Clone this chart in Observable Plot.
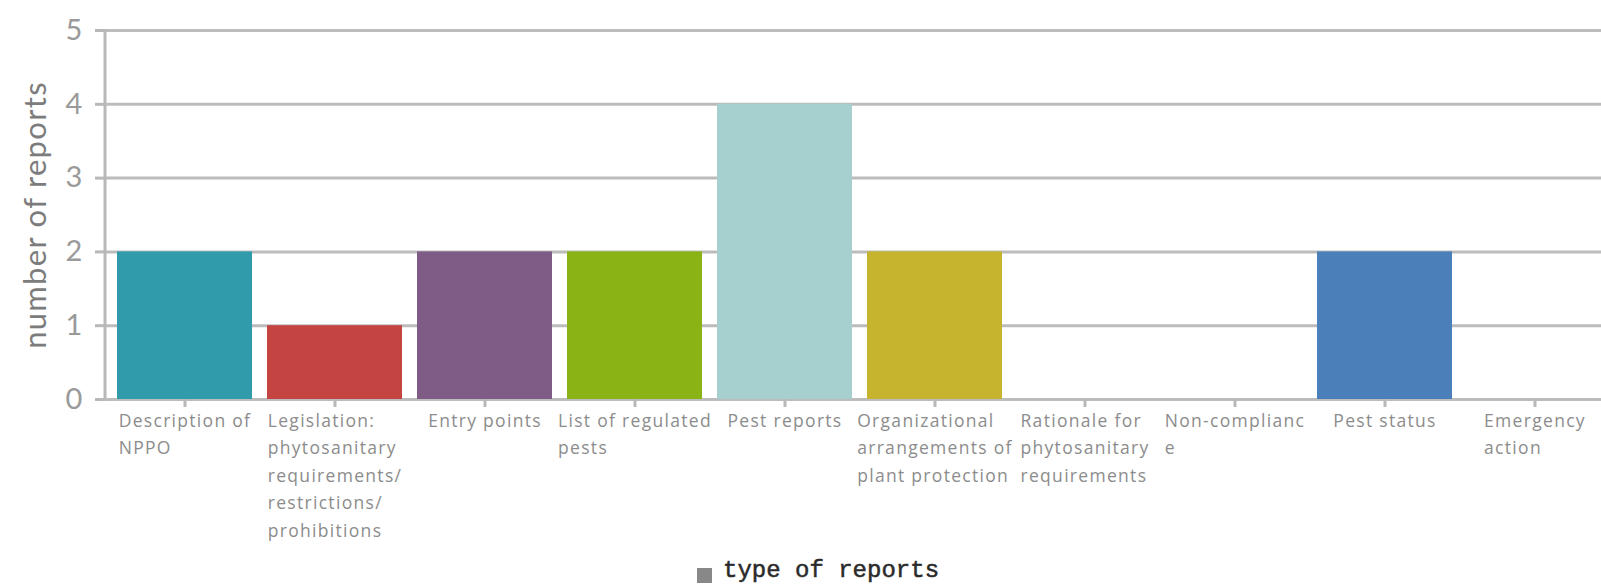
<!DOCTYPE html>
<html><head><meta charset="utf-8">
<script src="https://cdn.jsdelivr.net/npm/d3@7"></script>
<script src="https://cdn.jsdelivr.net/npm/@observablehq/plot@0.6"></script>
<style>
body{margin:0;background:#fff;font-family:Lato,"Open Sans",sans-serif;width:1601px;height:584px;overflow:hidden;position:relative}
#chart svg text{letter-spacing:1.3px}
#legend{position:absolute;left:0;top:555px;width:1601px;height:29px;}
#legend .sw{position:absolute;left:697px;top:13px;width:15px;height:15px;background:#888}
#legend .tx{position:absolute;left:723px;top:2px;font-family:"Liberation Mono","DejaVu Sans Mono",monospace;font-size:24px;color:#2a2a2a;line-height:28px;white-space:nowrap;-webkit-text-stroke:0.5px #2a2a2a}
</style></head><body>
<div id="chart"></div>
<div id="legend"><span class="sw"></span><span class="tx">type of reports</span></div>
<script>
const categories = ["Description of NPPO","Legislation: phytosanitary requirements/ restrictions/ prohibitions","Entry points","List of regulated pests","Pest reports","Organizational arrangements of plant protection","Rationale for phytosanitary requirements","Non-compliance","Pest status","Emergency action"];
const labelLines = [
  ["Description of","NPPO"],
  ["Legislation:","phytosanitary","requirements/","restrictions/","prohibitions"],
  ["Entry points"],
  ["List of regulated","pests"],
  ["Pest reports"],
  ["Organizational","arrangements of","plant protection"],
  ["Rationale for","phytosanitary","requirements"],
  ["Non-complianc","e"],
  ["Pest status"],
  ["Emergency","action"]
];
const values = [2,1,2,2,4,2,0,0,2,0];
const colors = ["#2f9bab","#c44441","#7f5c86","#8ab416","#a6d0cf","#c7b42e","#999999","#999999","#4b7fba","#999999"];
const yTicks = [0,1,2,3,4,5];

const data = categories.map((c,i)=>({category:c, value:values[i], color:colors[i], label:labelLines[i].join("\n")}));

const labelFamily = "Open Sans";
const labelSize = 17.5;
const letterSp = 1.3;
const ctx = document.createElement("canvas").getContext("2d");
ctx.font = `${labelSize}px "${labelFamily}"`;
const blockWidth = lines => Math.max(...lines.map(l=>ctx.measureText(l).width + letterSp*l.length));

const labelMarks = data.map((d,i)=>Plot.text([d],{
  x:"category", y:()=>0, text:"label", textAnchor:"start", lineAnchor:"top",
  dx:-blockWidth(labelLines[i])/2, dy:8, fontSize:labelSize, lineHeight:1.57, fill:"#8c8c8c",
  fontFamily:labelFamily
}));

const yAxisLine = (index, scales, values, dims) =>
  d3.create("svg:line")
    .attr("x1", dims.marginLeft).attr("x2", dims.marginLeft)
    .attr("y1", scales.y(0)).attr("y2", scales.y(5))
    .attr("stroke","#b8b8b8").attr("stroke-width",3).node();

const chart = Plot.plot({
  width:1601, height:555,
  marginLeft:105, marginRight:0, marginTop:30, marginBottom:156,
  style:{fontFamily:"Lato", background:"#fff"},
  x:{type:"band", domain:categories, range:[106.75,1611.75], paddingInner:0.103, paddingOuter:0.0515, axis:null},
  y:{domain:[0,5], axis:null},
  marks:[
    Plot.ruleY(yTicks,{stroke:"#bcbcbc", strokeWidth:3}),
    Plot.barY(data,{x:"category", y:"value", fill:"color"}),
    Plot.axisY(yTicks,{anchor:"left", tickSize:10, tickPadding:12, fontSize:29, color:"#9a9a9a", stroke:"#b8b8b8", strokeWidth:3, tickFormat:d=>String(d), label:null}),
    Plot.axisX({anchor:"bottom", tickSize:8, tickFormat:()=>"", stroke:"#b8b8b8", strokeWidth:3, label:null}),
    yAxisLine,
    Plot.text(["number of reports"],{frameAnchor:"left", dx:-69, rotate:-90, textAnchor:"middle", fontSize:31, fill:"#7c7c7c", fontFamily:"Lato", text:d=>d}),
    ...labelMarks
  ]
});
document.getElementById("chart").appendChild(chart);
</script>
</body></html>
